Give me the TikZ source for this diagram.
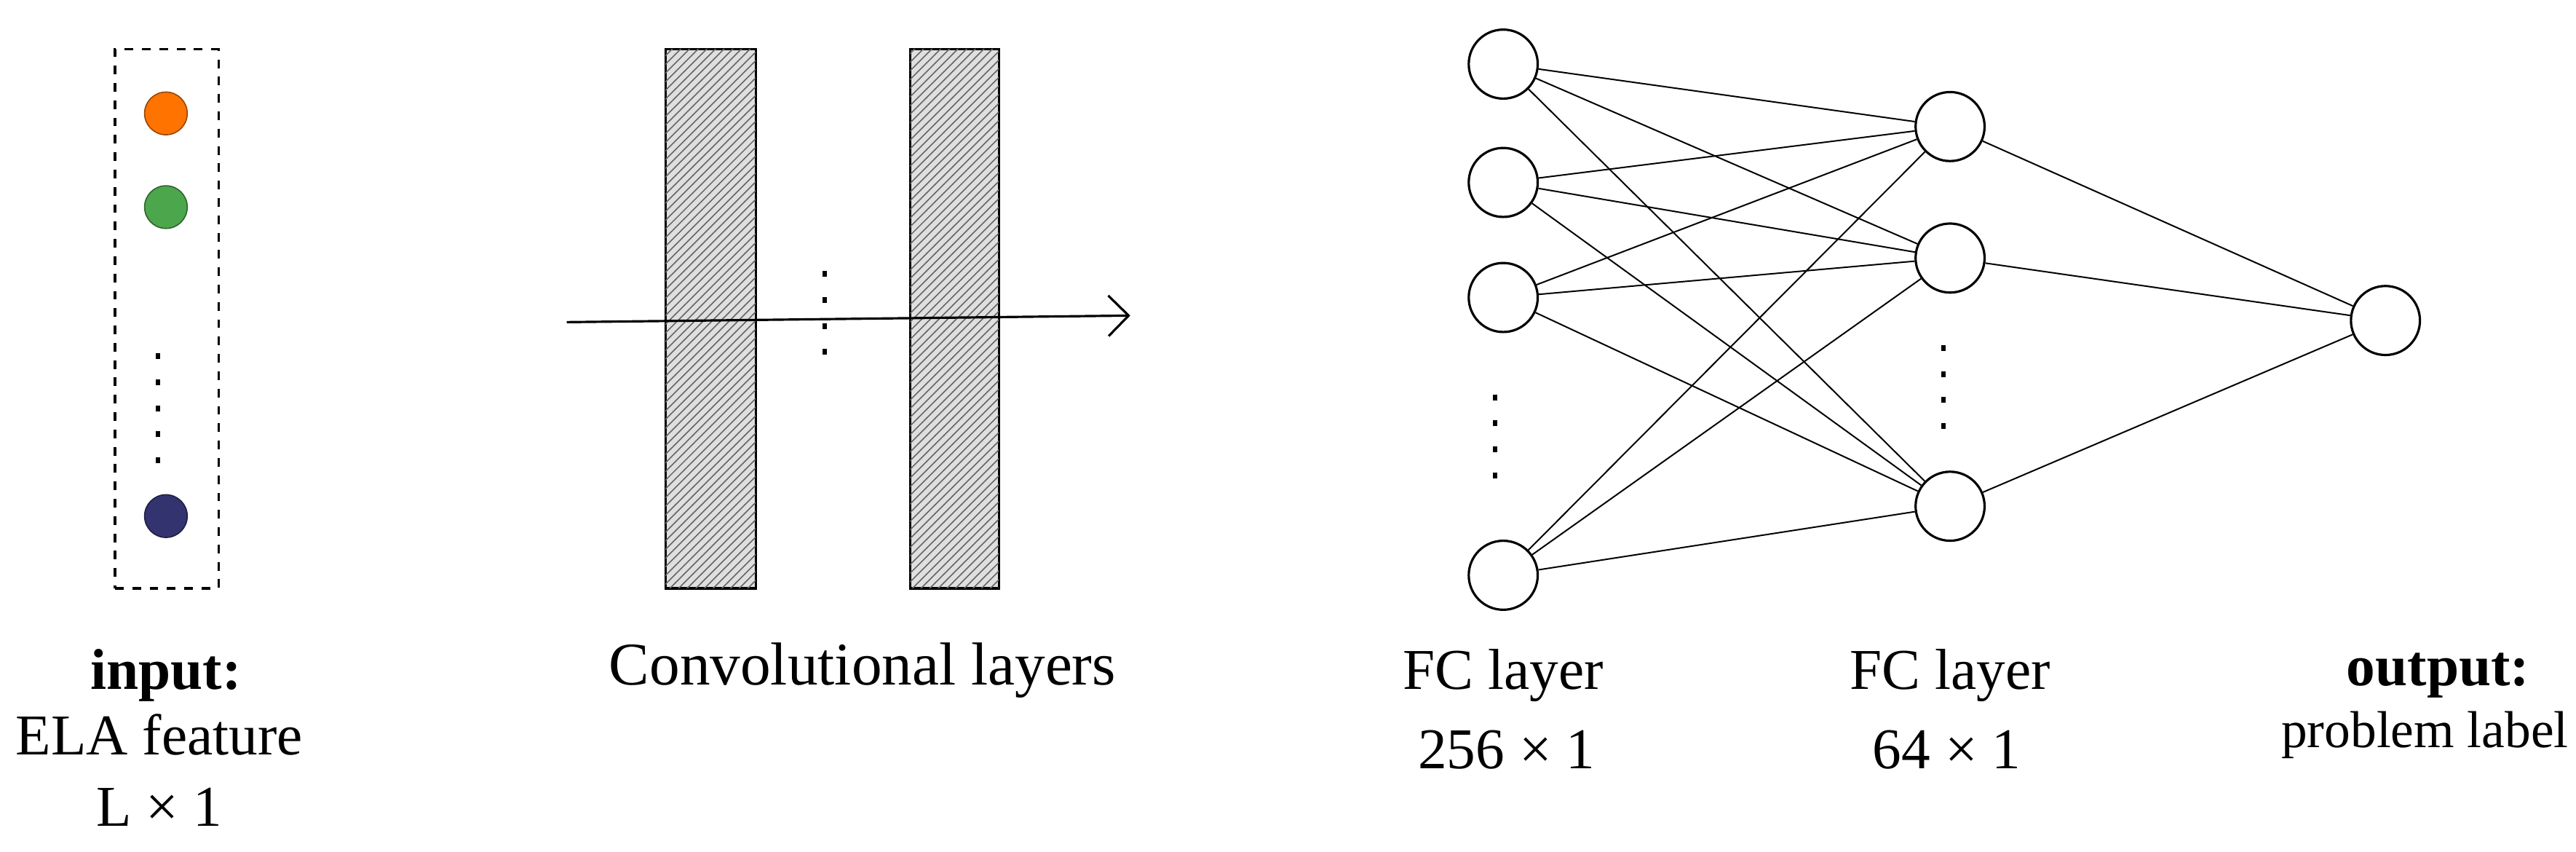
\documentclass[tikz,border=0pt]{standalone}
\usepackage{fontspec}
\setmainfont{Liberation Serif}
\usetikzlibrary{patterns,arrows.meta}
\begin{document}
\begin{tikzpicture}[x=0.02cm,y=-0.02cm,
  neuron/.style={circle,draw,thick,minimum size=0.84cm,inner sep=0pt},
  dot/.style={circle,draw=#1!60!black,fill=#1,minimum width=0.46cm,minimum height=0.52cm,inner sep=0pt},
  conv/.style={draw,thick,fill=gray!25,postaction={pattern=north east lines,pattern color=gray!80!black}},
  vdots/.style={line width=1.6pt,dash pattern=on 2pt off 7pt},
  edge/.style={line width=0.5pt},
  lbl/.style={font=\fontsize{20}{24}\selectfont,align=center}]
\useasboundingbox (0,0) rectangle (1568,518);
% input
\node[draw,thick,dashed,minimum width=1.26cm,minimum height=6.56cm,inner sep=0pt] (box) at (101.5,194) {};
\node[dot={orange!90!red}] (i1) at (101,69) {};
\node[dot={green!50!black!70!white}] (i2) at (101,126) {};
\node[dot={blue!30!black!80!white}] (i3) at (101,314) {};
\coordinate (id1) at (96,215); \coordinate (id2) at (96,292);
\draw[vdots] (id1) -- (id2);
% conv
\node[conv,minimum width=1.1cm,minimum height=6.56cm,inner sep=0pt] (c1) at (432.5,194) {};
\node[conv,minimum width=1.08cm,minimum height=6.56cm,inner sep=0pt] (c2) at (581,194) {};
\coordinate (a1) at (345,196); \coordinate (a2) at (688,192);
\draw[thick,-{Straight Barb[length=7pt,width=14pt]}] (a1) -- (a2);
\coordinate (cd1) at (502,165); \coordinate (cd2) at (502,226);
\draw[vdots] (cd1) -- (cd2);
% FC1
\node[neuron] (f1) at (915,39) {};
\node[neuron] (f2) at (915,111) {};
\node[neuron] (f3) at (915,181) {};
\node[neuron] (f4) at (915,350) {};
\coordinate (fd1) at (910,240); \coordinate (fd2) at (910,297);
\draw[vdots] (fd1) -- (fd2);
% FC2
\node[neuron] (g1) at (1187,77) {};
\node[neuron] (g2) at (1187,157) {};
\node[neuron] (g3) at (1187,308) {};
\coordinate (gd1) at (1183,210); \coordinate (gd2) at (1183,270);
\draw[vdots] (gd1) -- (gd2);
% output
\node[neuron] (o) at (1452,195) {};
\foreach \a in {f1,f2,f3,f4}{\foreach \b in {g1,g2,g3}{\draw[edge] (\a) -- (\b);}}
\foreach \b in {g1,g2,g3}{\draw[edge] (\b) -- (o);}
% labels
\node[lbl] (t1) at (101,411) {\textbf{input:}};
\node[lbl] (t2) at (97,447) {ELA feature};
\node[lbl] (t3) at (97,491) {L × 1};
\node[lbl,font=\fontsize{21}{24}\selectfont] (t4) at (525,408) {Convolutional layers};
\node[lbl] (t5) at (915,411) {FC layer};
\node[lbl] (t6) at (917,456) {256 × 1};
\node[lbl] (t7) at (1187,411) {FC layer};
\node[lbl] (t8) at (1185,456) {64 × 1};
\node[lbl] (t9) at (1484,411) {\textbf{output:}};
\node[lbl,font=\fontsize{18}{24}\selectfont] (t10) at (1476,447) {problem label};
\end{tikzpicture}
\end{document}
